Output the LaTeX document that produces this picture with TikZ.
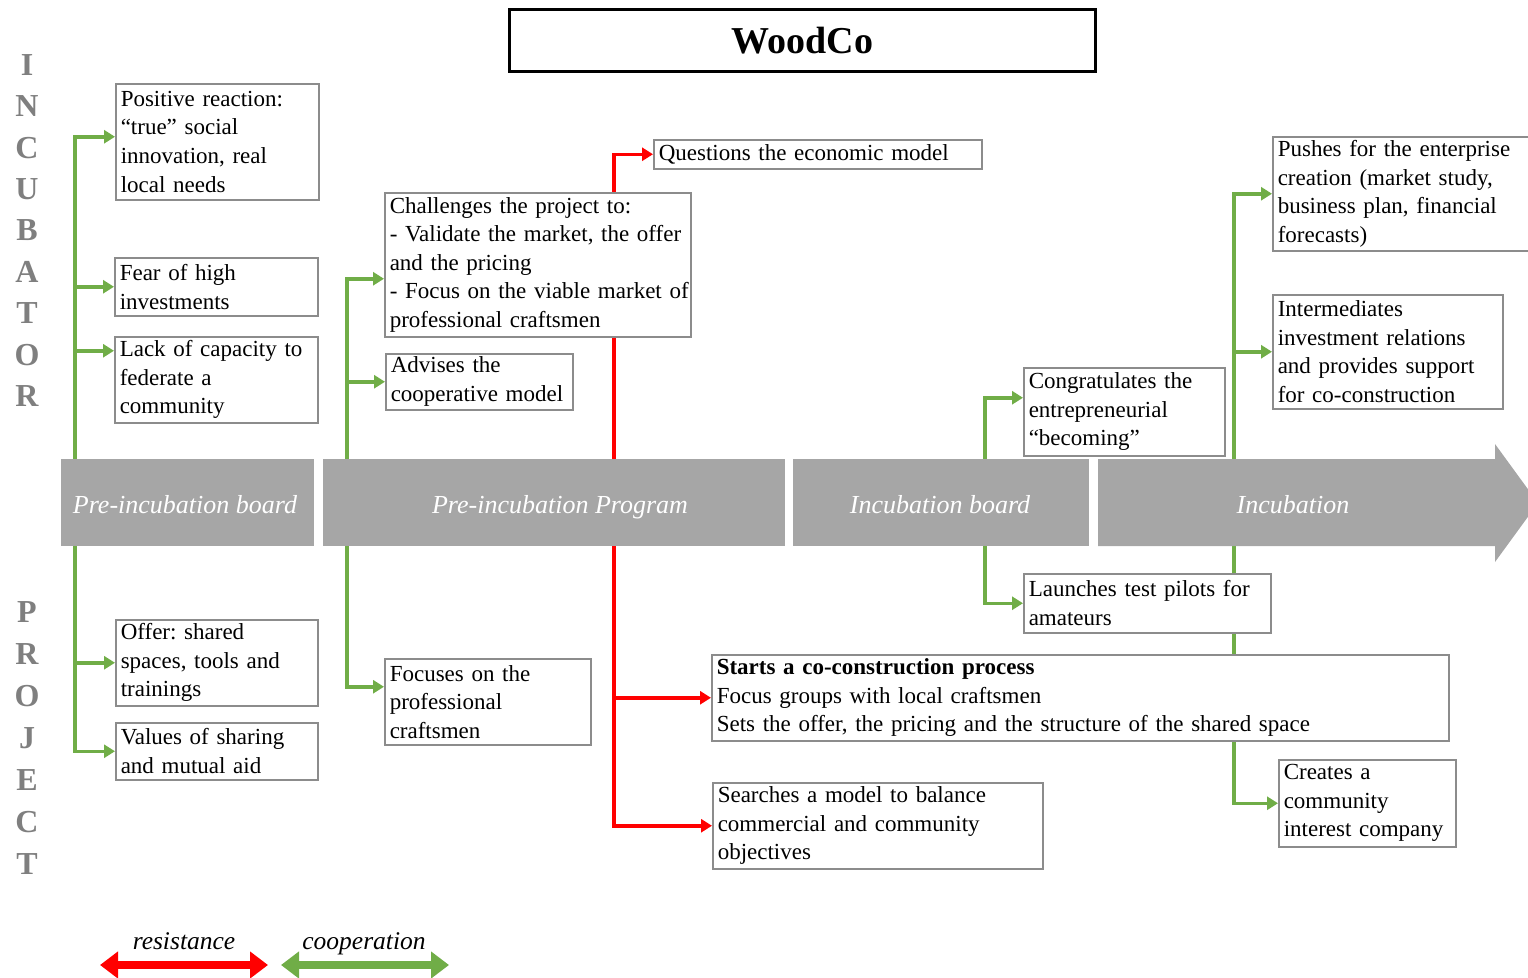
\documentclass[tikz,border=0pt]{standalone}
\usepackage{fontspec}
\setmainfont{Liberation Serif}
\usetikzlibrary{arrows.meta}
\frenchspacing
\definecolor{cgreen}{HTML}{70AD47}
\definecolor{cred}{HTML}{FF0000}
\definecolor{cbar}{HTML}{A6A6A6}
\definecolor{cborder}{HTML}{8C8C8C}
\definecolor{cletter}{HTML}{7F7F7F}
\pgfdeclarelayer{bg}
\pgfsetlayers{bg,main}
\tikzset{
  box/.style={draw=cborder, line width=1.5pt, fill=white, anchor=north west, align=left,
    inner xsep=5pt, inner ysep=2pt, font=\fontsize{23}{28.6}\selectfont},
  barbox/.style={fill=cbar, minimum height=87pt, inner sep=0pt, anchor=north west},
  barlabel/.style={font=\fontsize{26}{30}\selectfont\itshape, text=white, inner sep=0pt, anchor=base},
  gl/.style={draw=cgreen, line width=3.5pt, -{Triangle[length=11pt,width=13pt]}},
  rl/.style={draw=cred, line width=3.5pt, -{Triangle[length=11pt,width=13pt]}},
  legr/.style={draw=cred, line width=8pt, {Triangle[length=18pt,width=26pt]}-{Triangle[length=18pt,width=26pt]}},
  legg/.style={draw=cgreen, line width=8pt, {Triangle[length=18pt,width=26pt]}-{Triangle[length=18pt,width=26pt]}},
  legtext/.style={font=\fontsize{25.5}{30}\selectfont\itshape, inner sep=0pt, anchor=base},
  vletters/.style={text=cletter, align=center, inner sep=0pt},
}
\begin{document}
\begin{tikzpicture}[x=1pt, y=-1pt]
\useasboundingbox (0,0) rectangle (1528,977);
\clip (0,0) rectangle (1528,977);

% title
\node[draw=black, line width=3pt, minimum width=586pt, minimum height=62pt, anchor=north west,
  font=\fontsize{38}{40}\selectfont\bfseries] (title) at (508,8) {WoodCo};

% vertical words
\node[vletters, font=\fontsize{32}{41.4}\selectfont\bfseries] (incub) at (27,230.5)
  {I\\N\\C\\U\\B\\A\\T\\O\\R};
\node[vletters, font=\fontsize{32}{42}\selectfont\bfseries] (proj) at (27,738)
  {P\\R\\O\\J\\E\\C\\T};

% process bar
\node[barbox, minimum width=253pt] (pib) at (61,459) {};
\node[barbox, minimum width=462pt] (pip) at (323,459) {};
\node[barbox, minimum width=296pt] (ib) at (793,459) {};
\fill[cbar] (1098,459) -- (1495,459) -- (1495,444) -- (1538,503) -- (1495,562) -- (1495,546) -- (1098,546) -- cycle;
\node[barlabel] (pibl) at (185,513) {Pre-incubation board};
\node[barlabel] (pipl) at (560,513) {Pre-incubation Program};
\node[barlabel] (ibl) at (940,513) {Incubation board};
\node[barlabel] (inc) at (1293,513) {Incubation};

% boxes - pre-incubation board
\node[box, text width=193pt, minimum height=116pt] (b1) at (115,83)
  {Positive reaction:\\“true” social\\innovation, real\\local needs};
\node[box, text width=193pt, minimum height=58pt] (b2) at (114,257)
  {Fear of high\\investments};
\node[box, text width=193pt, minimum height=86pt] (b3) at (114,336)
  {\mbox{Lack of capacity to}\\federate a\\community};
\node[box, text width=192pt, minimum height=86pt] (b4) at (115,619)
  {Offer: shared\\spaces, tools and\\trainings};
\node[box, text width=192pt, minimum height=57pt] (b5) at (115,722)
  {Values of sharing\\and mutual aid};

% pre-incubation program
\node[box, text width=296pt, minimum height=144pt] (ch) at (384,192)
  {\mbox{Challenges the project to:}\\\mbox{- Validate the market, the offer}\\\mbox{and the pricing}\\\mbox{- Focus on the viable market of}\\\mbox{professional craftsmen}};
\node[box, text width=177pt, minimum height=56pt] (adv) at (385,353)
  {Advises the\\\mbox{cooperative model}};
\node[box, text width=196pt, minimum height=86pt] (foc) at (384,658)
  {Focuses on the\\professional\\craftsmen};
\node[box, text width=318pt, minimum height=29pt] (q) at (653,139)
  {Questions the economic model};
\node[box, text width=727pt, minimum height=86pt] (st) at (711,654)
  {\textbf{Starts a co-construction process}\\Focus groups with local craftsmen\\Sets the offer, the pricing and the structure of the shared space};
\node[box, text width=320pt, minimum height=86pt] (se) at (712,782)
  {Searches a model to balance\\commercial and community\\objectives};

% incubation board
\node[box, text width=191pt, minimum height=88pt] (cg) at (1023,367)
  {Congratulates the\\entrepreneurial\\“becoming”};
\node[box, text width=237pt, minimum height=59pt] (la) at (1023,573)
  {\mbox{Launches test pilots for}\\amateurs};

% incubation
\node[box, text width=270pt, minimum height=114pt] (pu) at (1272,136)
  {\mbox{Pushes for the enterprise}\\\mbox{creation (market study,}\\\mbox{business plan, financial}\\forecasts)};
\node[box, text width=220pt, minimum height=114pt] (im) at (1272,294)
  {Intermediates\\\mbox{investment relations}\\\mbox{and provides support}\\\mbox{for co-construction}};
\node[box, text width=167pt, minimum height=87pt] (cr) at (1278,759)
  {Creates a\\community\\\mbox{interest company}};

% trunk coordinates on the bar edges
\coordinate (g1t) at (75,459);   \coordinate (g1b) at (75,546);
\coordinate (g2t) at (347,459);  \coordinate (g2b) at (347,546);
\coordinate (r1t) at (614,459);  \coordinate (r1b) at (614,546);
\coordinate (g3t) at (985,459);  \coordinate (g3b) at (985,546);
\coordinate (g4t) at (1234,459); \coordinate (g4b) at (1234,546);

\begin{pgfonlayer}{bg}
\draw[gl] (g1t) |- ([yshift=5pt]b1.west);
\draw[gl] (g1t) |- (b2.west);
\draw[gl] (g1t) |- ([yshift=29pt]b3.west);
\draw[gl] (g1b) |- (b4.west);
\draw[gl] (g1b) |- (b5.west);
\draw[gl] (g2t) |- ([yshift=-14pt]ch.west);
\draw[gl] (g2t) |- (adv.west);
\draw[gl] (g2b) |- ([yshift=15pt]foc.west);
\draw[rl] (r1t) |- (q.west);
\draw[rl] (r1b) |- (st.west);
\draw[rl] (r1b) |- (se.west);
\draw[gl] (g3t) |- ([yshift=14pt]cg.west);
\draw[gl] (g3b) |- (la.west);
\draw[gl] (g4t) |- (pu.west);
\draw[gl] (g4t) |- (im.west);
\draw[gl] (g4b) |- (cr.west);
\end{pgfonlayer}

% legend
\node[legtext] (lres) at (184,949) {resistance};
\node[legtext] (lcoop) at (364,949) {cooperation};
\coordinate (lr1) at (100,965); \coordinate (lr2) at (268,965);
\coordinate (lg1) at (281,965); \coordinate (lg2) at (449,965);
\draw[legr] (lr1) -- (lr2);
\draw[legg] (lg1) -- (lg2);
\end{tikzpicture}
\end{document}
